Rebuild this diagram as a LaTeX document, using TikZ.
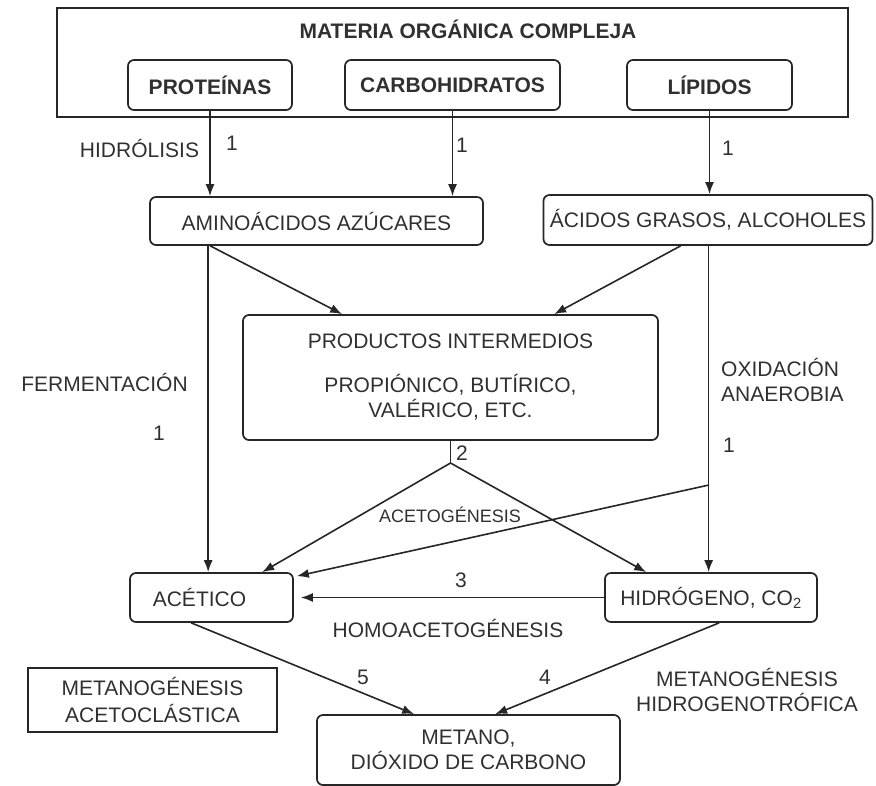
\documentclass[tikz,border=0pt]{standalone}
\usepackage{fontspec}
\setmainfont{Liberation Sans}
\usetikzlibrary{arrows.meta}
\definecolor{ink}{HTML}{262626}
\definecolor{txt}{HTML}{303030}
\begin{document}
\begin{tikzpicture}[x=1pt,y=-1pt,
  every node/.style={text=txt, font=\fontsize{21}{25}\selectfont},
  rbox/.style={draw=ink, line width=1.7pt, rounded corners=6pt, inner sep=0pt, align=center},
  sbox/.style={draw=ink, line width=1.7pt, inner sep=0pt, align=center},
  lbl/.style={inner sep=0pt, align=center},
  arr/.style={draw=ink, line width=1.6pt, -{Latex[length=12pt,width=9pt]}},
  ln/.style={draw=ink, line width=1.6pt}]
\useasboundingbox (0,0) rectangle (876,786);

% organic matter block
\node[sbox, minimum width=791pt, minimum height=109pt] (mat) at (452.5,62.5) {};
\node[lbl, font=\fontsize{21}{25}\selectfont\bfseries] (title) at (468,29) {MATERIA ORGÁNICA COMPLEJA};
\node[rbox, minimum width=164pt, minimum height=50pt, font=\fontsize{21}{25}\selectfont\bfseries] (prot) at (210,85) {PROTEÍNAS};
\node[rbox, minimum width=215pt, minimum height=50pt, font=\fontsize{21}{25}\selectfont\bfseries] (carb) at (452.5,85) {CARBOHIDRATOS};
\node[rbox, minimum width=165pt, minimum height=50pt, font=\fontsize{21}{25}\selectfont\bfseries] (lip) at (709.5,85) {LÍPIDOS};

% hydrolysis products
\node[rbox, minimum width=333pt, minimum height=48pt] (amino) at (316.5,221) {AMINOÁCIDOS AZÚCARES};
\node[rbox, minimum width=329pt, minimum height=50pt] (acidos) at (708,220) {ÁCIDOS GRASOS, ALCOHOLES};

% intermediate products
\node[rbox, minimum width=415pt, minimum height=125pt] (prod) at (450.5,377.5)
  {PRODUCTOS INTERMEDIOS\\[19pt]PROPIÓNICO, BUTÍRICO,\\VALÉRICO, ETC.};

% acetic acid and hydrogen
\node[rbox, minimum width=163pt, minimum height=49pt] (acet) at (211.5,597.5) {ACÉTICO\hspace{24pt}};
\node[rbox, minimum width=212pt, minimum height=49pt] (hidr) at (711,597.5) {HIDRÓGENO, CO\textsubscript{2}};

% final products
\node[sbox, minimum width=249pt, minimum height=64pt, font=\fontsize{21}{27}\selectfont] (metaac) at (152.5,700) {METANOGÉNESIS\\ACETOCLÁSTICA};
\node[rbox, minimum width=303pt, minimum height=70pt] (metano) at (468.5,750) {METANO,\\DIÓXIDO DE CARBONO};

% hydrolysis
\draw[arr] (prot.south) -- (prot.south |- amino.north);
\draw[arr] (carb.south) -- (carb.south |- amino.north);
\draw[arr] (lip.south) -- (lip.south |- acidos.north);

% towards intermediate products
\draw[arr] ([xshift=61pt]amino.south west) -- ([xshift=100pt]prod.north west);
\draw[arr] ([xshift=138pt]acidos.south west) -- ([xshift=312pt]prod.north west);

% fermentation and anaerobic oxidation
\draw[arr] ([xshift=59pt]amino.south west) -- ([xshift=59pt]amino.south west |- acet.north);
\draw[arr] ([xshift=166pt]acidos.south west) -- ([xshift=166pt]acidos.south west |- hidr.north);
\coordinate (tap) at (709,485);
\draw[arr] (tap) -- ([xshift=3pt,yshift=-4pt]acet.north east);

% acetogenesis
\coordinate (split) at (450.5,463);
\draw[ln] (prod.south) -- (split);
\draw[arr] (split) -- ([xshift=133pt]acet.north west);
\draw[arr] (split) -- ([xshift=42pt]hidr.north west);

% homoacetogenesis
\draw[arr, shorten >=7pt] (hidr.west) -- (hidr.west -| acet.east);

% methanogenesis
\draw[arr] ([xshift=62pt]acet.south west) -- ([xshift=98pt]metano.north west);
\draw[arr] ([xshift=115pt]hidr.south west) -- ([xshift=179pt]metano.north west);

% labels
\node[lbl] (lhid) at (139.5,148) {HIDRÓLISIS};
\node[lbl] (n1a) at (232,143) {1};
\node[lbl] (n1b) at (462,145) {1};
\node[lbl] (n1c) at (728,148) {1};
\node[lbl] (lfer) at (104.5,382) {FERMENTACIÓN};
\node[lbl] (n1d) at (159,433) {1};
\node[lbl, anchor=west, align=left] (loxi) at (721,380) {OXIDACIÓN\\ANAEROBIA};
\node[lbl] (n1e) at (729,445) {1};
\node[lbl] (n2) at (462,453) {2};
\node[lbl, font=\fontsize{18}{22}\selectfont] (lacg) at (450,515) {ACETOGÉNESIS};
\node[lbl] (n3) at (461,580) {3};
\node[lbl] (lhom) at (448,628) {HOMOACETOGÉNESIS};
\node[lbl] (n5) at (363,677) {5};
\node[lbl] (n4) at (545,677) {4};
\node[lbl] (lhyd) at (747,690) {METANOGÉNESIS\\HIDROGENOTRÓFICA};
\end{tikzpicture}
\end{document}
